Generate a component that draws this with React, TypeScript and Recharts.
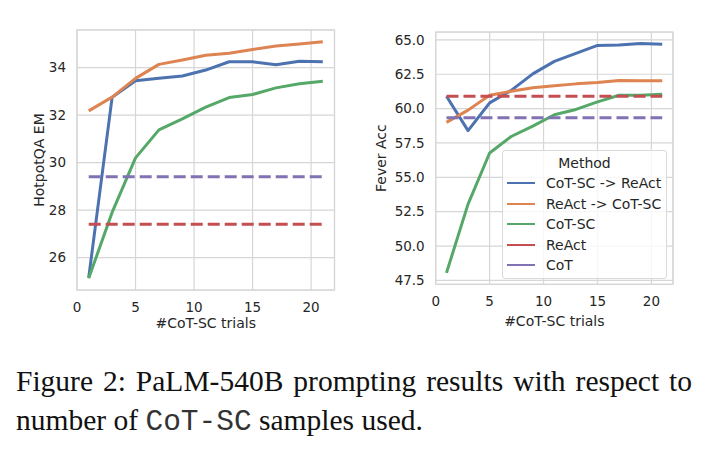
import React from 'react';
import {
  LineChart,
  Line,
  XAxis,
  YAxis,
  CartesianGrid,
  ReferenceArea,
  Legend,
  Label,
} from 'recharts';

// #CoT-SC trials
const trials = [1, 3, 5, 7, 9, 11, 13, 15, 17, 19, 21];

// HotpotQA EM
const hotpotCotScToReact = [25.15, 32.75, 33.45, 33.55, 33.65, 33.9, 34.25, 34.25, 34.12, 34.27, 34.25];
const hotpotReactToCotSc = [32.18, 32.76, 33.55, 34.14, 34.32, 34.52, 34.61, 34.77, 34.91, 35.0, 35.09];
const hotpotCotSc = [25.13, 27.9, 30.2, 31.38, 31.84, 32.34, 32.74, 32.87, 33.15, 33.32, 33.43];
const hotpotReact = 27.4;
const hotpotCot = 29.4;

// Fever Acc
const feverCotScToReact = [60.9, 58.4, 60.42, 61.33, 62.53, 63.44, 64.02, 64.6, 64.62, 64.74, 64.69];
const feverReactToCotSc = [59.0, 59.89, 60.97, 61.26, 61.52, 61.66, 61.8, 61.9, 62.05, 62.02, 62.02];
const feverCotSc = [48.05, 53.05, 56.77, 57.97, 58.73, 59.55, 59.94, 60.49, 60.97, 60.97, 61.04];
const feverReact = 60.9;
const feverCot = 59.33;

const xTicks = [0, 5, 10, 15, 20];
const hotpotTicks = [26, 28, 30, 32, 34];
const feverTicks = [47.5, 50, 52.5, 55, 57.5, 60, 62.5, 65];

const methodNames = ['CoT-SC -> ReAct', 'ReAct -> CoT-SC', 'CoT-SC', 'ReAct', 'CoT'];

// seaborn "deep"
const COLORS = {
  cotScToReact: '#4C72B0',
  reactToCotSc: '#DD8452',
  cotSc: '#55A868',
  react: '#C44E52',
  cot: '#8172B3',
};

const TEXT = '#262626';
const GRID = '#d6d6d6';
const FONT = '"DejaVu Sans", sans-serif';

const buildRows = (a: number[], b: number[], c: number[], react: number, cot: number) =>
  trials.map((x, i) => ({ x, cotScToReact: a[i], reactToCotSc: b[i], cotSc: c[i], react, cot }));

const hotpotRows = buildRows(hotpotCotScToReact, hotpotReactToCotSc, hotpotCotSc, hotpotReact, hotpotCot);
const feverRows = buildRows(feverCotScToReact, feverReactToCotSc, feverCotSc, feverReact, feverCot);

// matplotlib-style 5% padding around the data
const padded = ([lo, hi]: [number, number]): [number, number] => {
  const pad = (hi - lo) * 0.05;
  return [lo - pad, hi + pad];
};

const xTitle = (dy: number) => (props: any) => {
  const { x, y, width } = props.viewBox;
  return (
    <text x={x + width / 2} y={y + dy} textAnchor="middle" dominantBaseline="central"
      fontSize={14} fill={TEXT} fontFamily={FONT}>
      #CoT-SC trials
    </text>
  );
};

const yTitle = (text: string, dx: number) => (props: any) => {
  const { x, y, height } = props.viewBox;
  const cx = x + dx;
  const cy = y + height / 2;
  return (
    <text x={cx} y={cy} transform={`rotate(-90, ${cx}, ${cy})`} textAnchor="middle"
      dominantBaseline="central" fontSize={14} fill={TEXT} fontFamily={FONT}>
      {text}
    </text>
  );
};

function MethodLegend({ payload }: any) {
  if (!payload) return null;
  const items = [...payload].sort((a: any, b: any) => methodNames.indexOf(a.value) - methodNames.indexOf(b.value));
  return (
    <div style={{
      width: 165, height: 129, boxSizing: 'border-box', border: '1px solid #dadada', borderRadius: 3,
      background: 'rgba(255,255,255,0.8)', fontFamily: FONT, fontSize: 14, color: TEXT, position: 'relative',
    }}>
      <div style={{ position: 'absolute', left: 0, right: 0, top: 2, textAlign: 'center', lineHeight: '20px' }}>
        Method
      </div>
      {items.map((entry: any, i: number) => (
        <div key={entry.value} style={{ position: 'absolute', left: 4, top: 22 + i * 20.6, height: 20, display: 'flex', alignItems: 'center' }}>
          <span style={{ display: 'inline-block', width: 28, height: 2, background: entry.color }} />
          <span style={{ marginLeft: 11, lineHeight: '20px', whiteSpace: 'nowrap' }}>{entry.value}</span>
        </div>
      ))}
    </div>
  );
}

function series() {
  const solid = { type: 'linear' as const, dot: false, strokeWidth: 3, strokeLinejoin: 'round' as const, isAnimationActive: false };
  const dashed = { ...solid, strokeDasharray: '12 5' };
  return [
    <Line key="a" dataKey="cotScToReact" name={methodNames[0]} stroke={COLORS.cotScToReact} {...solid} />,
    <Line key="b" dataKey="reactToCotSc" name={methodNames[1]} stroke={COLORS.reactToCotSc} {...solid} />,
    <Line key="c" dataKey="cotSc" name={methodNames[2]} stroke={COLORS.cotSc} {...solid} />,
    <Line key="d" dataKey="react" name={methodNames[3]} stroke={COLORS.react} {...dashed} />,
    <Line key="e" dataKey="cot" name={methodNames[4]} stroke={COLORS.cot} {...dashed} />,
  ];
}

const tickStyle = { fontSize: 13.5, fill: TEXT, fontFamily: FONT };

export default function App() {
  return (
    <div style={{ position: 'absolute', left: 0, top: 0, width: 711, height: 456, background: '#fff', overflow: 'hidden' }}>
      <div style={{ position: 'absolute', left: 0, top: 0 }}>
        <LineChart width={350} height={340} data={hotpotRows} margin={{ top: 30, right: 15.5, bottom: 0, left: 17 }}>
          <CartesianGrid stroke={GRID} strokeWidth={1.2} />
          <XAxis dataKey="x" type="number" domain={[0, 22]} ticks={xTicks} allowDataOverflow height={50}
            axisLine={false} tickLine={false} tickSize={0} tickMargin={12} tick={tickStyle}>
            <Label content={xTitle(33)} />
          </XAxis>
          <YAxis type="number" domain={padded as any} ticks={hotpotTicks} allowDataOverflow width={60}
            axisLine={false} tickLine={false} tickSize={0} tickMargin={11} tick={tickStyle}>
            <Label content={yTitle('HotpotQA EM', 22)} />
          </YAxis>
          <ReferenceArea x1={0} x2={22} y1={24.63} y2={35.59} fill="none" stroke={GRID} strokeWidth={1.2} ifOverflow="visible" />
          {series()}
        </LineChart>
      </div>
      <div style={{ position: 'absolute', left: 360, top: 0 }}>
        <LineChart width={340} height={340} data={feverRows} margin={{ top: 32, right: 27, bottom: 5.7, left: 15.7 }}>
          <CartesianGrid stroke={GRID} strokeWidth={1.2} />
          <XAxis dataKey="x" type="number" domain={[0, 22]} ticks={xTicks} allowDataOverflow height={50}
            axisLine={false} tickLine={false} tickSize={0} tickMargin={12.5} tick={tickStyle}>
            <Label content={xTitle(36.5)} />
          </XAxis>
          <YAxis type="number" domain={padded as any} ticks={feverTicks} allowDataOverflow width={60}
            axisLine={false} tickLine={false} tickSize={0} tickMargin={11} tick={tickStyle}
            tickFormatter={(v: number) => v.toFixed(1)}>
            <Label content={yTitle('Fever Acc', 5)} />
          </YAxis>
          <ReferenceArea x1={0} x2={22} y1={47.22} y2={65.57} fill="none" stroke={GRID} strokeWidth={1.2} ifOverflow="visible" />
          {series()}
          <Legend layout="vertical" align="center" verticalAlign="middle" content={<MethodLegend />}
            wrapperStyle={{ left: 142, top: 150, width: 165, height: 129 }} />
        </LineChart>
      </div>
      <div style={{
        position: 'absolute', left: 16, top: 362, width: 676, fontFamily: '"Liberation Serif", "Times New Roman", serif',
        fontSize: 29.5, lineHeight: '39px', color: '#111',
      }}>
        <div style={{ textAlign: 'justify', textAlignLast: 'justify' }}>
          Figure 2: PaLM-540B prompting results with respect to
        </div>
        <div>
          number of <span style={{ fontFamily: '"Liberation Mono", monospace', color: '#333' }}>CoT-SC</span> samples used.
        </div>
      </div>
    </div>
  );
}
